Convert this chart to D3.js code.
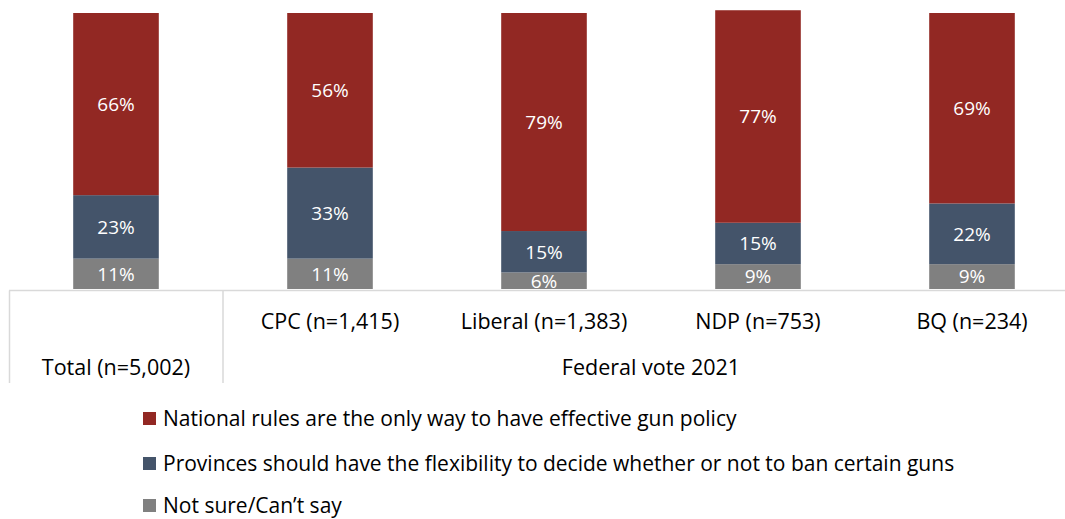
<!DOCTYPE html>
<html><head><meta charset="utf-8">
<script src="https://cdn.jsdelivr.net/npm/d3@7"></script>
<style>body{margin:0;background:#fff}svg{display:block}text{font-family:"Open Sans",sans-serif}</style>
</head><body>
<svg id="c" width="1065" height="519"></svg>
<script>
const categories = ["Total (n=5,002)", "CPC (n=1,415)", "Liberal (n=1,383)", "NDP (n=753)", "BQ (n=234)"];
const seriesNames = ["National rules are the only way to have effective gun policy",
  "Provinces should have the flexibility to decide whether or not to ban certain guns",
  "Not sure/Can\u2019t say"];
const national = [66, 56, 79, 77, 69];
const provinces = [23, 33, 15, 15, 22];
const notSure = [11, 11, 6, 9, 9];
const groupLabel = "Federal vote 2021";
const colors = ["#922823", "#44546A", "#808080"];

const svg = d3.select("#c");
const x = d3.scaleBand().domain(categories).range([9, 1079]).paddingInner(0.6).paddingOuter(0.3);
const y = d3.scaleLinear().domain([0, 100]).range([289, 13]);

const rows = categories.map((c, i) => ({cat: c, s0: notSure[i], s1: provinces[i], s2: national[i]}));
const stack = d3.stack().keys(["s0", "s1", "s2"]);
const layers = stack(rows);
const labelFor = {s0: 2, s1: 1, s2: 0};

layers.forEach(layer => {
  const ci = labelFor[layer.key];
  const g = svg.append("g");
  g.selectAll("rect").data(layer).join("rect")
    .attr("x", d => x(d.data.cat)).attr("width", x.bandwidth())
    .attr("y", d => y(d[1])).attr("height", d => y(d[0]) - y(d[1]))
    .attr("fill", colors[ci]);
  g.selectAll("text").data(layer).join("text")
    .attr("x", d => x(d.data.cat) + x.bandwidth() / 2)
    .attr("y", d => (y(d[0]) + y(d[1])) / 2)
    .attr("dy", "0.36em").attr("text-anchor", "middle")
    .attr("fill", "#fff").attr("font-size", 19)
    .text(d => (d[1] - d[0]) + "%");
});

// category axis box
const axisY = 290.5;
const line = (x1, y1, x2, y2) => svg.append("line").attr("x1", x1).attr("y1", y1).attr("x2", x2).attr("y2", y2)
  .attr("stroke", "#d9d9d9").attr("stroke-width", 1.5);
line(9, axisY, 1065, axisY);
line(9.5, axisY, 9.5, 383);
const sep = x(categories[1]) - (x.step() - x.bandwidth()) / 2;
line(sep, axisY, sep, 383);

categories.forEach((c, i) => {
  svg.append("text").attr("x", x(c) + x.bandwidth() / 2).attr("y", i === 0 ? 375 : 329)
    .attr("text-anchor", "middle").attr("font-size", 21.5).attr("fill", "#000").text(c);
});
svg.append("text").attr("x", (sep + 1079) / 2).attr("y", 375)
  .attr("text-anchor", "middle").attr("font-size", 21.5).attr("fill", "#000").text(groupLabel);

// legend
const legY = [418, 463, 505];
seriesNames.forEach((n, i) => {
  svg.append("rect").attr("x", 143).attr("y", legY[i] - 6).attr("width", 13).attr("height", 13).attr("fill", colors[i]);
  svg.append("text").attr("x", 163).attr("y", legY[i]).attr("dy", "0.36em")
    .attr("font-size", 21).attr("fill", "#000").text(n);
});
</script>
</body></html>
